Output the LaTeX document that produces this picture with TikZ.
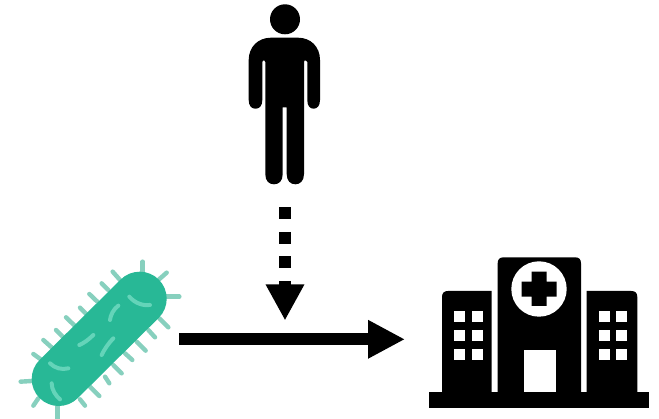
\documentclass[tikz,border=0pt]{standalone}
\usetikzlibrary{arrows.meta}
\definecolor{bactbody}{RGB}{40,184,150}
\definecolor{bactspine}{RGB}{135,208,190}
\definecolor{bactmark}{RGB}{100,212,185}
\tikzset{
  icon/.style={fill=black,draw=none},
  hole/.style={fill=white,draw=none},
  spine/.style={draw=bactspine,line width=4.4pt,line cap=round},
  bactstreak/.style={draw=bactmark,line width=4pt,line cap=round},
  mainarrow/.style={draw=black,line width=12pt,-{Triangle[length=37pt,width=36pt]}},
  modarrow/.style={draw=black,line width=12pt,dash pattern=on 12pt off 12.5pt,-{Triangle[length=36pt,width=36pt]}}
}
\begin{document}
\begin{tikzpicture}[x=1pt,y=-1pt]
\useasboundingbox (0,0) rectangle (659,419);
\fill[white] (0,0) rectangle (659,419);
% person
\fill[icon] (285,19.3) circle (15);
\fill[icon] (248.7,100) -- (248.7,60) .. controls (248.7,47) and (258,37.7) .. (271,37.7)
  -- (298,37.7) .. controls (311,37.7) and (320,47) .. (320,60)
  -- (320,100) .. controls (320,106) and (317,108.7) .. (313.6,108.7)
  .. controls (310,108.7) and (307.3,106) .. (307.3,100)
  -- (307.3,62) .. controls (307.3,61) and (306.5,60.7) .. (306,60.7)
  -- (304.5,60.7) .. controls (304,60.7) and (304,61) .. (304,62)
  -- (304,174) .. controls (304,181) and (300,184.3) .. (295.4,184.3)
  .. controls (290.5,184.3) and (286.7,181) .. (286.7,174)
  -- (286.7,107.3) -- (282.7,107.3) -- (282.7,174)
  .. controls (282.7,181) and (279,184.3) .. (274,184.3)
  .. controls (269,184.3) and (265.3,181) .. (265.3,174)
  -- (265.3,62) .. controls (265.3,61) and (265,60.7) .. (264.5,60.7)
  -- (263,60.7) .. controls (262.5,60.7) and (262.3,61) .. (262.3,62)
  -- (262.3,100) .. controls (262.3,106) and (259.5,108.7) .. (255.5,108.7)
  .. controls (251.5,108.7) and (248.7,106) .. (248.7,100) -- cycle;
% bacterium spines
\foreach \ax/\ay/\bx/\by in {428/95/428/65,360/120/338/95,325/150/305/130,292/185/268/162,262/225/240/203,225/258/198/232,190/292/168/270,158/325/130/300,125/360/100/342,95/423/62/425,115/475/100/497,172/495/172/535,240/478/255/497,270/440/298/468,315/410/328/430,340/375/365/400,375/340/397/360,410/305/437/332,445/270/465/292,478/235/505/262,497/170/538/170,475/120/500/98}
  \draw[spine] ({\ax/3},{240+\ay/3}) -- ({\bx/3},{240+\by/3});
% bacterium body
\draw[draw=bactbody,line width=54pt,line cap=round] (58.7,379) -- (139.7,298.7);
% bacterium marks
\begin{scope}[shift={(0,240)},x=0.3333pt,y=-0.3333pt]
\draw[bactstreak] (388,170) .. controls (405,190) and (430,198) .. (450,195);
\draw[bactstreak] (355,197) .. controls (340,208) and (332,225) .. (330,240);
\draw[bactstreak] (280,285) .. controls (265,300) and (250,310) .. (238,315);
\draw[bactstreak] (340,295) .. controls (325,310) and (312,330) .. (305,345);
\draw[bactstreak] (150,370) .. controls (165,385) and (185,390) .. (205,385);
\draw[bactstreak] (155,430) .. controls (155,450) and (168,468) .. (180,478);
\end{scope}
% hospital
\fill[icon] (429,392) rectangle (649,408.3);
\fill[icon] (442,395) -- (442,297) .. controls (442,293) and (444,291) .. (448,291) -- (491.7,291) -- (491.7,395) -- cycle;
\fill[icon] (637.3,395) -- (637.3,297) .. controls (637.3,293) and (635.3,291) .. (631.3,291) -- (586.7,291) -- (586.7,395) -- cycle;
\fill[icon] (497.7,395) -- (497.7,263.3) .. controls (497.7,259.3) and (499.7,257.3) .. (503.7,257.3)
  -- (575,257.3) .. controls (579,257.3) and (581,259.3) .. (581,263.3) -- (581,395) -- cycle;
\fill[hole] (539,289) circle (27.7);
\fill[icon] (531.7,271.7) -- (546.7,271.7) -- (546.7,281.7) -- (556.7,281.7) -- (556.7,296.7) -- (546.7,296.7)
  -- (546.7,306) -- (531.7,306) -- (531.7,296.7) -- (521.7,296.7) -- (521.7,281.7) -- (531.7,281.7) -- cycle;
\fill[hole] (523.7,350.3) rectangle (556.3,392);
\foreach \wx in {454.3,471.5,598.7,615.7}
  \foreach \wy in {310.7,330,349.5}
    \fill[hole] (\wx,\wy) rectangle ++(11,11);
% connectors
\coordinate (bacterium) at (179,339.3);
\coordinate (hospital) at (405,339.3);
\coordinate (person) at (285,207.3);
\coordinate (effect) at (285,320.5);
\draw[mainarrow] (bacterium) -- (hospital);
\draw[modarrow] (person) -- (effect);
\end{tikzpicture}
\end{document}
